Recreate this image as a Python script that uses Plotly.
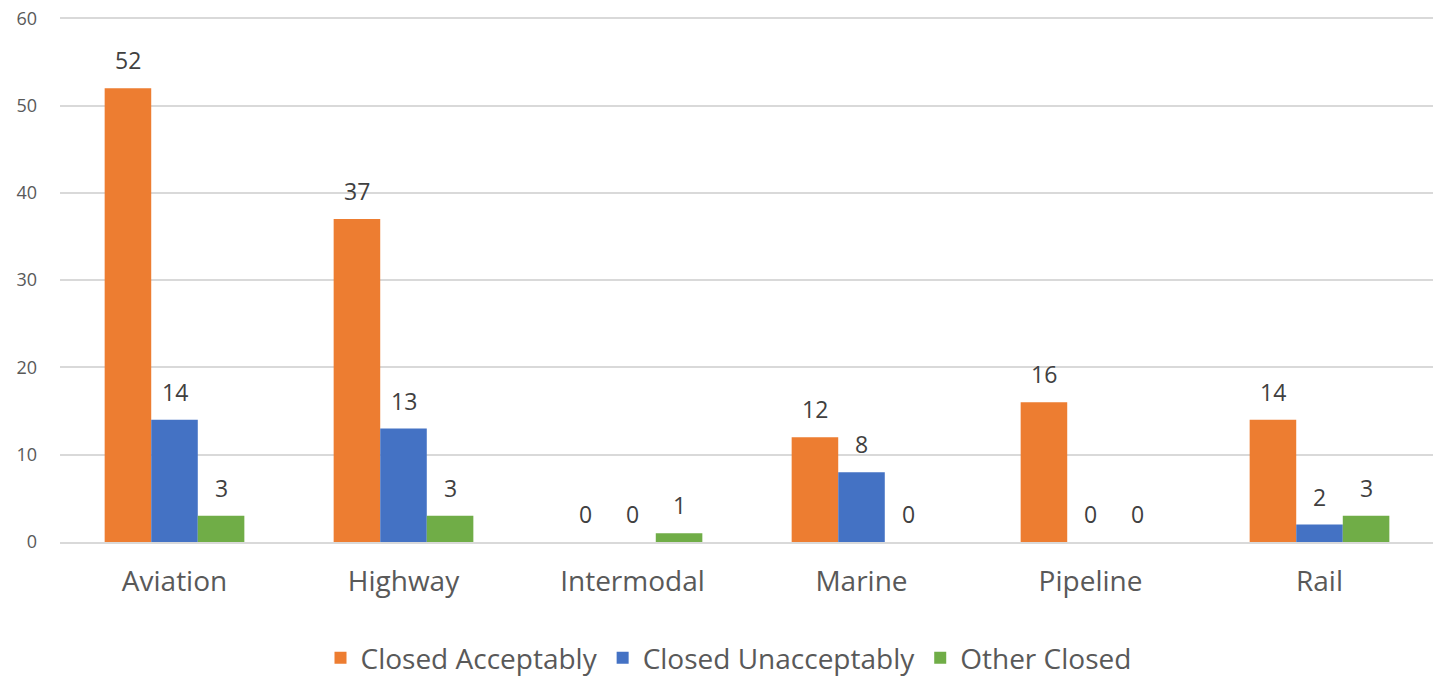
import plotly.graph_objects as go

categories = ["Aviation", "Highway", "Intermodal", "Marine", "Pipeline", "Rail"]
closed_acceptably = [52, 37, 0, 12, 16, 14]
closed_unacceptably = [14, 13, 0, 8, 0, 2]
other_closed = [3, 3, 1, 0, 0, 3]

series = [
    ("Closed Acceptably", closed_acceptably, "#ED7D31"),
    ("Closed Unacceptably", closed_unacceptably, "#4472C4"),
    ("Other Closed", other_closed, "#70AD47"),
]

FONT = "Open Sans, Liberation Sans, sans-serif"
W, H = 1441, 678
ML, MR, MT, MB = 52, 15, 6, 144
BARGAP = 0.39

fig = go.Figure()
for name, vals, color in series:
    fig.add_trace(go.Bar(
        x=categories, y=vals, name=name, marker_color=color,
        marker_line_width=0, cliponaxis=False,
    ))

# data labels as annotations positioned via axis scales
plot_w = W - ML - MR
bar_w = plot_w / len(categories) * (1 - BARGAP) / len(series)
annotations = []
for i, (name, vals, color) in enumerate(series):
    shift = (i - (len(series) - 1) / 2) * bar_w
    for c, v in zip(categories, vals):
        annotations.append(dict(
            x=c, y=v, xref="x", yref="y", text=str(v), showarrow=False,
            xshift=shift, yshift=10, yanchor="bottom",
            font=dict(size=23, color="#404040", family=FONT),
        ))

fig.update_layout(
    width=W, height=H,
    margin=dict(l=ML, r=MR, t=MT, b=MB),
    paper_bgcolor="white", plot_bgcolor="white",
    barmode="group", bargap=BARGAP, bargroupgap=0,
    font=dict(family=FONT, color="#595959"),
    legend=dict(orientation="h", x=0.5, xanchor="center", xref="container",
                y=0.0413, yanchor="middle", yref="container",
                font=dict(size=28, color="#595959", family=FONT), itemwidth=30,
                traceorder="normal"),
    annotations=annotations,
)
fig.update_yaxes(range=[0, 60.5], tickvals=[0, 10, 20, 30, 40, 50, 60], showgrid=True,
                 gridcolor="#D9D9D9", gridwidth=1.5,
                 zeroline=False, tickfont=dict(size=18, color="#595959", family=FONT),
                 ticklabelstandoff=22, showline=False, automargin=False,
                 ticklabeloverflow="allow")
fig.update_xaxes(showline=True, linecolor="#D9D9D9", linewidth=1.5,
                 tickfont=dict(size=28, color="#595959", family=FONT),
                 ticklabelstandoff=14, ticks="", automargin=False)

fig.write_html("out.html")
